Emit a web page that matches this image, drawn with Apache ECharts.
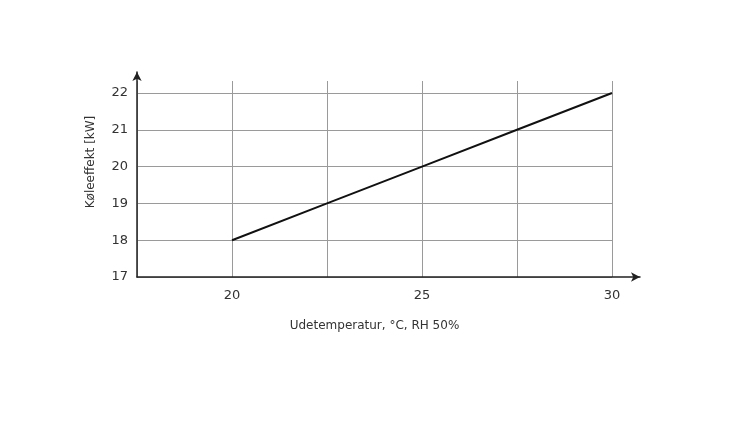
<!DOCTYPE html>
<html><head><meta charset="utf-8">
<script src="https://cdn.jsdelivr.net/npm/echarts@6/dist/echarts.min.js"></script>
<style>html,body{margin:0;padding:0;background:#fff}#c{width:750px;height:436px}</style>
</head><body><div id="c"></div>
<script>
const temps = [20, 22.5, 25, 27.5, 30];
const power = [18, 19, 20, 21, 22];
const xTickLabels = [20, 25, 30];
const yTickLabels = [17, 18, 19, 20, 21, 22];
const xName = 'Udetemperatur, °C, RH 50%';
const yName = 'Køleeffekt [kW]';

const font = 'DejaVu Sans';
const grid = '#9a9a9a';
const chart = echarts.init(document.getElementById('c'));
chart.setOption({
  animation: false,
  backgroundColor: '#fff',
  grid: [
    {left: 137, right: 138, top: 93, bottom: 159},
    {left: 137, right: 138, top: 81, bottom: 159},
    {left: 137, right: 110, top: 72, bottom: 159}
  ],
  xAxis: [
    {gridIndex: 0, type: 'value', min: 17.5, max: 30, interval: 2.5,
     axisLine: {show: false}, axisTick: {show: false}, splitLine: {show: false},
     axisLabel: {margin: 12, color: '#333', fontFamily: font, fontSize: 13,
       formatter: v => xTickLabels.includes(v) ? String(v) : ''},
     name: xName, nameLocation: 'middle', nameGap: 43,
     nameTextStyle: {color: '#333', fontFamily: font, fontSize: 12}},
    {gridIndex: 1, type: 'value', min: 17.5, max: 30, interval: 2.5,
     axisLine: {show: false}, axisTick: {show: false}, axisLabel: {show: false},
     splitLine: {show: true, lineStyle: {color: grid, width: 1}}},
    {gridIndex: 2, type: 'value', min: 0, max: 1,
     axisLine: {show: true, symbol: ['none', 'arrow'], symbolSize: [7, 9], lineStyle: {color: '#222', width: 1.5}},
     axisTick: {show: false}, axisLabel: {show: false}, splitLine: {show: false}}
  ],
  yAxis: [
    {gridIndex: 0, type: 'value', min: 17, max: 22, interval: 1,
     axisLine: {show: false}, axisTick: {show: false},
     splitLine: {show: true, lineStyle: {color: grid, width: 1}},
     axisLabel: {margin: 9, color: '#333', fontFamily: font, fontSize: 13,
       formatter: v => yTickLabels.includes(v) ? String(v) : ''},
     name: yName, nameLocation: 'middle', nameGap: 40, nameRotate: 90,
     nameTextStyle: {color: '#333', fontFamily: font, fontSize: 12, padding: [0, 0, 0, 46]}},
    {gridIndex: 1, type: 'value', min: 0, max: 1, show: false},
    {gridIndex: 2, type: 'value', min: 0, max: 1,
     axisLine: {show: true, symbol: ['none', 'arrow'], symbolSize: [7, 9], lineStyle: {color: '#222', width: 1.5}},
     axisTick: {show: false}, axisLabel: {show: false}, splitLine: {show: false}}
  ],
  series: [{
    type: 'line', xAxisIndex: 0, yAxisIndex: 0,
    data: temps.map((t, i) => [t, power[i]]),
    showSymbol: false, symbol: 'none',
    lineStyle: {color: '#111', width: 2}
  }]
});
</script></body></html>
